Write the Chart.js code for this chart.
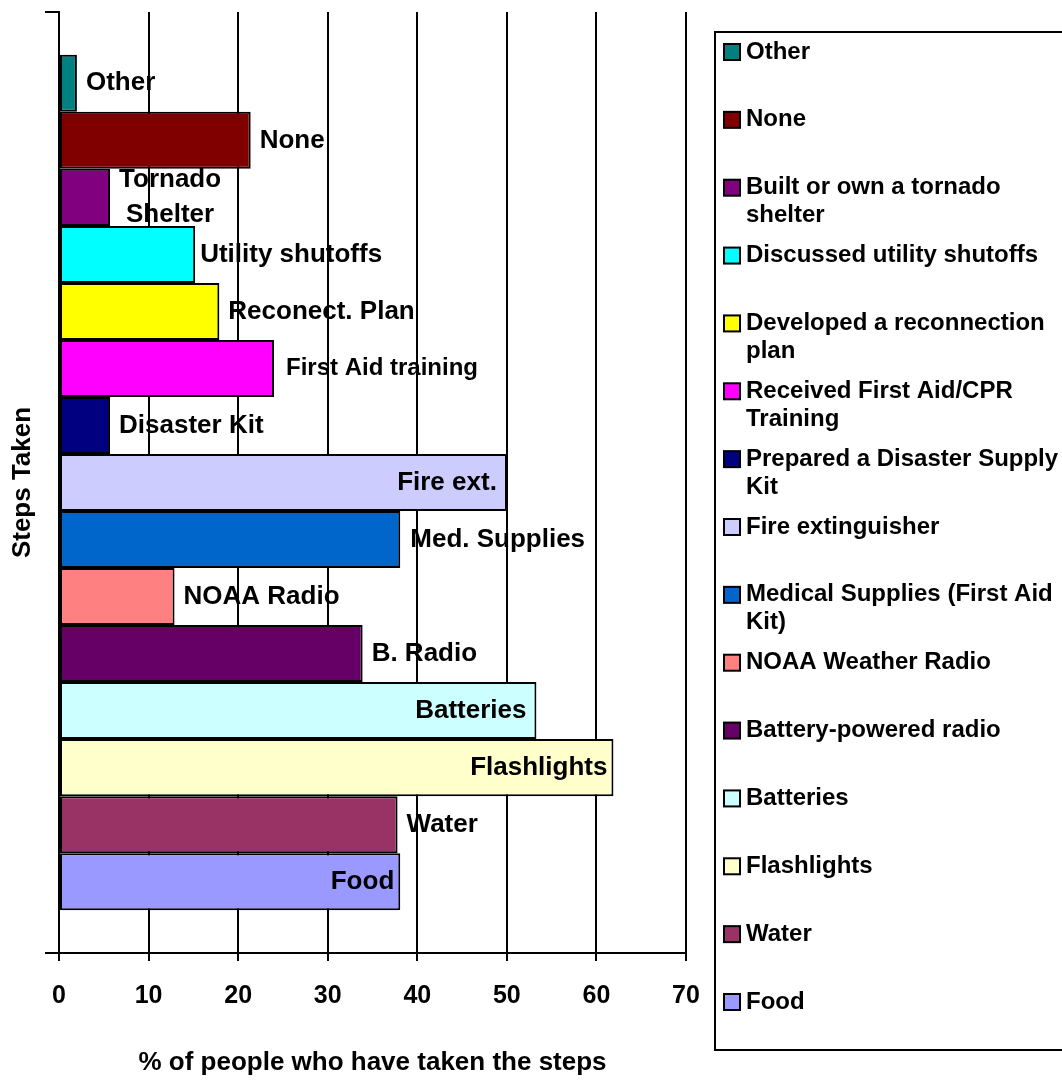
<!DOCTYPE html>
<html>
<head>
<meta charset="utf-8">
<script src="https://cdn.jsdelivr.net/npm/chart.js@4/dist/chart.umd.min.js"></script>
<style>
  html, body { margin: 0; padding: 0; background: #fff; }
  canvas { display: block; }
</style>
</head>
<body>
<canvas id="chart" width="1062" height="1080"></canvas>
<script>
// Preparedness steps, listed top to bottom
const steps = [
  'Other', 'None', 'Built or own a tornado shelter', 'Discussed utility shutoffs',
  'Developed a reconnection plan', 'Received First Aid/CPR Training',
  'Prepared a Disaster Supply Kit', 'Fire extinguisher', 'Medical Supplies (First Aid Kit)',
  'NOAA Weather Radio', 'Battery-powered radio', 'Batteries', 'Flashlights', 'Water', 'Food'
];

// Legend text, broken into lines
const legendLines = [
  ['Other'], ['None'], ['Built or own a tornado', 'shelter'], ['Discussed utility shutoffs'],
  ['Developed a reconnection', 'plan'], ['Received First Aid/CPR', 'Training'],
  ['Prepared a Disaster Supply', 'Kit'], ['Fire extinguisher'], ['Medical Supplies (First Aid', 'Kit)'],
  ['NOAA Weather Radio'], ['Battery-powered radio'], ['Batteries'], ['Flashlights'], ['Water'], ['Food']
];

// Short names written next to each bar
const barLabels = [
  ['Other'], ['None'], ['Tornado', 'Shelter'], ['Utility shutoffs'], ['Reconect. Plan'],
  ['First Aid training'], ['Disaster Kit'], ['Fire ext.'], ['Med. Supplies'], ['NOAA Radio'],
  ['B. Radio'], ['Batteries'], ['Flashlights'], ['Water'], ['Food']
];

// % of people who have taken each step
const percents = [2.0, 21.4, 5.7, 15.2, 17.9, 24.0, 5.7, 50.0, 38.1, 12.9, 33.9, 53.3, 61.9, 37.8, 38.1];

const xTicks = [0, 10, 20, 30, 40, 50, 60, 70];

// Bar fills
const colors = [
  '#008080', '#800000', '#800080', '#00FFFF', '#FFFF00', '#FF00FF', '#000080', '#CCCCFF',
  '#0066CC', '#FF8080', '#660066', '#CCFFFF', '#FFFFCC', '#993366', '#9999FF'
];

// Which short names sit inside the bar end rather than after it
const labelInside = [false, false, false, false, false, false, false, true, false, false, false, true, true, false, true];
const labelSize = [26, 26, 26, 26, 26, 24, 26, 26, 26, 26, 26, 26, 26, 26, 26];
const labelGap = [9, 9, 9, 5, 9, 12, 9, 10, 10, 9, 9, 10, 6, 9, 6];

const FONT = "'Liberation Sans', Arial, Helvetica, sans-serif";

const barLabelPlugin = {
  id: 'barLabels',
  afterDatasetsDraw(chart) {
    const c = chart.ctx;
    c.save();
    c.fillStyle = '#000';
    c.textBaseline = 'middle';
    chart.data.datasets.forEach((ds, i) => {
      const bar = chart.getDatasetMeta(i).data[0];
      if (!bar) return;
      const lines = barLabels[i];
      c.font = `bold ${labelSize[i]}px ${FONT}`;
      const w = Math.max(...lines.map(l => c.measureText(l).width));
      const lh = 35;
      const y0 = bar.y - (lines.length - 1) * lh / 2;
      lines.forEach((line, k) => {
        let x;
        if (labelInside[i]) {
          c.textAlign = 'right';
          x = bar.x - labelGap[i];
        } else {
          c.textAlign = 'center';
          x = bar.x + labelGap[i] + w / 2;
        }
        c.fillText(line, x, y0 + k * lh);
      });
    });
    c.restore();
  }
};

const legendBoxPlugin = {
  id: 'legendBox',
  afterDraw(chart) {
    const c = chart.ctx;
    c.save();
    c.strokeStyle = '#000';
    c.lineWidth = 2;
    c.strokeRect(715, 32, 400, 1018);
    c.font = `bold 24px ${FONT}`;
    c.textBaseline = 'middle';
    c.textAlign = 'left';
    const firstY = 52, step = (1002 - 52) / (steps.length - 1);
    chart.data.datasets.forEach((ds, i) => {
      const y = firstY + i * step;
      c.fillStyle = ds.backgroundColor;
      c.fillRect(724, y - 8, 16, 16);
      c.lineWidth = 2;
      c.strokeStyle = '#000';
      c.strokeRect(724, y - 8, 16, 16);
      c.fillStyle = '#000';
      legendLines[i].forEach((line, k) => c.fillText(line, 746, y + k * 28));
    });
    c.restore();
  }
};

const boldFont = size => ({ family: FONT, size, weight: 'bold' });

new Chart(document.getElementById('chart'), {
  type: 'bar',
  data: {
    labels: [''],
    datasets: steps.map((s, i) => ({
      label: s,
      data: [percents[i]],
      backgroundColor: colors[i],
      borderColor: '#000',
      borderWidth: 2,
      borderSkipped: false,
      categoryPercentage: 0.909,
      barPercentage: 1
    }))
  },
  options: {
    indexAxis: 'y',
    responsive: false,
    animation: false,
    events: [],
    layout: { padding: { left: 0, top: 12, right: 376, bottom: 0 } },
    plugins: { legend: { display: false }, tooltip: { enabled: false } },
    scales: {
      x: {
        type: 'linear',
        min: 0,
        max: 70,
        afterBuildTicks: s => { s.ticks = xTicks.map(v => ({ value: v })); },
        ticks: { color: '#000', font: boldFont(25), padding: 20, maxRotation: 0 },
        grid: { color: '#000', lineWidth: 2, tickLength: 8 },
        border: { color: '#000', width: 2 },
        title: {
          display: true,
          text: '% of people who have taken the steps',
          color: '#000',
          font: boldFont(26),
          padding: { top: 4, bottom: 2 }
        },
        afterFit: s => { s.height = 127; }
      },
      y: {
        ticks: { display: false },
        grid: { drawOnChartArea: false, color: '#000', lineWidth: 2, tickLength: 14 },
        border: { color: '#000', width: 2 },
        title: {
          display: true,
          text: 'Steps Taken',
          color: '#000',
          font: boldFont(26),
          padding: { top: 7, bottom: 4 }
        },
        afterFit: s => { s.width = 59; }
      }
    }
  },
  plugins: [barLabelPlugin, legendBoxPlugin]
});
</script>
</body>
</html>
